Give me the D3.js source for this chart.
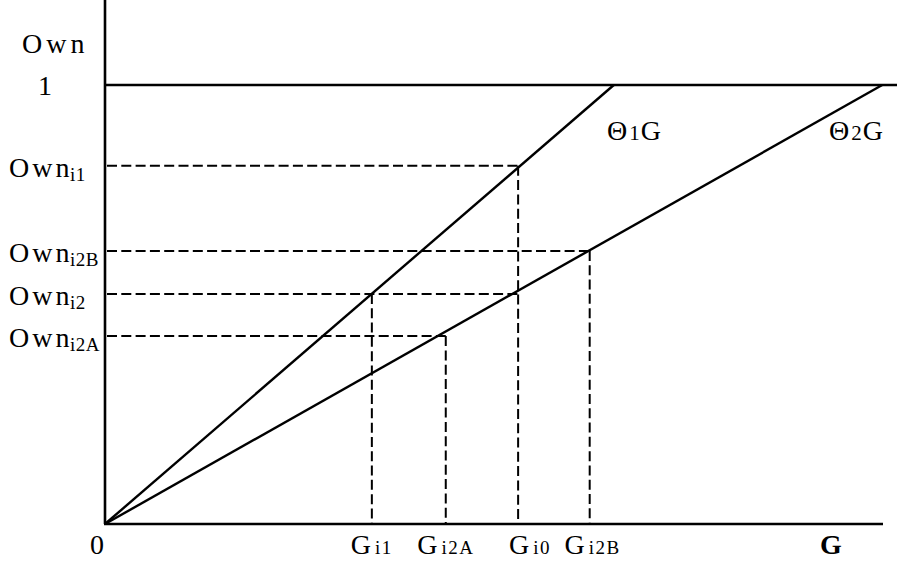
<!DOCTYPE html>
<html><head><meta charset="utf-8">
<script src="https://cdn.jsdelivr.net/npm/d3@7"></script>
<style>body{margin:0;background:#fff}svg{display:block}text{font-family:"Liberation Serif","Times New Roman",serif;fill:#000}</style>
</head><body><svg id="c" width="897" height="565"></svg>
<script>
// Data
const gDomain = [0, 100];
const ownDomain = [0, 1];
const theta1End = 65.4;   // G where Θ1·G reaches 1
const theta2End = 99.9;   // G where Θ2·G reaches 1
const gPoints = ["Gi1", "Gi2A", "Gi0", "Gi2B"];
const gValues = [34.3, 43.8, 53.1, 62.3];
const ownLabels = ["Owni1", "Owni2B", "Owni2", "Owni2A"];
const ownValues = [0.816, 0.622, 0.524, 0.428];
// which G each horizontal dashed line runs to
const ownReachG = [53.1, 62.3, 53.1, 43.8];
// which Own each vertical dashed line rises to
const gReachOwn = [0.524, 0.428, 0.816, 0.622];

const svg = d3.select("#c");
const x = d3.scaleLinear().domain(gDomain).range([105, 883]);
const y = d3.scaleLinear().domain(ownDomain).range([524, 85]);

// horizontal dashed lines
svg.selectAll("line.hd").data(ownValues).enter().append("line")
  .attr("x1", x(0) + 2).attr("x2", (d, i) => x(ownReachG[i]))
  .attr("y1", d => y(d)).attr("y2", d => y(d))
  .attr("stroke", "#000").attr("stroke-width", 2).attr("stroke-dasharray", "10,4.3");
// vertical dashed lines
svg.selectAll("line.vd").data(gValues).enter().append("line")
  .attr("x1", d => x(d)).attr("x2", d => x(d))
  .attr("y1", (d, i) => y(gReachOwn[i])).attr("y2", y(0))
  .attr("stroke", "#000").attr("stroke-width", 2).attr("stroke-dasharray", "10,4.3");

// top line Own = 1
svg.append("line").attr("x1", x(0)).attr("x2", 897).attr("y1", y(1)).attr("y2", y(1))
  .attr("stroke", "#000").attr("stroke-width", 2.4);
// Θ lines
const line = d3.line().x(d => x(d[0])).y(d => y(d[1]));
[[[0, 0], [theta1End, 1]], [[0, 0], [theta2End, 1]]].forEach(p =>
  svg.append("path").attr("d", line(p)).attr("fill", "none").attr("stroke", "#000").attr("stroke-width", 2.4));

// axes
svg.append("line").attr("x1", x(0)).attr("x2", x(0)).attr("y1", 0).attr("y2", y(0))
  .attr("stroke", "#000").attr("stroke-width", 2.6);
svg.append("line").attr("x1", x(0) - 1).attr("x2", 883).attr("y1", y(0)).attr("y2", y(0))
  .attr("stroke", "#000").attr("stroke-width", 2.6);

const FS = 28, SS = 19;
function label(xp, yp, main, sub, opts = {}) {
  const t = svg.append("text").attr("x", xp).attr("y", yp).attr("font-size", opts.fs || FS)
    .attr("letter-spacing", opts.ls !== undefined ? opts.ls : 3);
  if (opts.bold) t.attr("font-weight", "bold");
  if (opts.lastTight && main.length > 1) {
    t.append("tspan").text(main.slice(0, -1));
    t.append("tspan").attr("letter-spacing", 0.5).text(main.slice(-1));
  } else {
    t.append("tspan").text(main);
  }
  if (sub) t.append("tspan").attr("font-size", opts.ss || SS).attr("dy", opts.subdy !== undefined ? opts.subdy : 4)
    .attr("dx", opts.subdx || 0)
    .attr("letter-spacing", opts.sls !== undefined ? opts.sls : 0.5).text(sub);
  if (opts.after) t.append("tspan").attr("dy", -(opts.subdy !== undefined ? opts.subdy : 4)).attr("letter-spacing", 0).text(opts.after);
  return t;
}
// y labels
label(22, 53, "Own", null, {ls: 4});
label(38, 95, "1", null);
ownLabels.forEach((l, i) => {
  label(9, y(ownValues[i]) + 11, "Own", l.slice(3), {ls: 3, lastTight: true});
});
// x labels
label(90, 554, "0", null);
const gdx = [0, 0, 12, 3];
gPoints.forEach((l, i) => {
  const t = label(0, 554, "G", l.slice(1), {ls: 0, subdy: 0, subdx: 4, sls: 1.5});
  const w = t.node().getComputedTextLength() + 4;
  t.attr("x", x(gValues[i]) - w / 2 + gdx[i]);
});
label(820, 554, "G", null, {bold: true});
// Θ labels
label(607, 140, "Θ", "1", {ls: 2, subdy: 0, ss: 21, sls: 1, after: "G"});
label(829, 140, "Θ", "2", {ls: 2, subdy: 0, ss: 21, sls: 1, after: "G"});
</script></body></html>
